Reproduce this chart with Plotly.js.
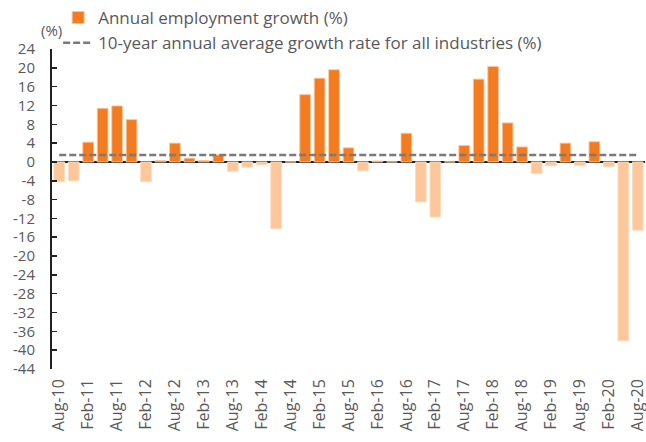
<!DOCTYPE html>
<html>
<head>
<meta charset="utf-8">
<script src="https://cdn.plot.ly/plotly-3.0.1.min.js"></script>
<style>html,body{margin:0;padding:0;background:#fff;}#chart{width:646px;height:442px;}</style>
</head>
<body>
<div id="chart"></div>
<script>
const quarters = ["Aug-10","Nov-10","Feb-11","May-11","Aug-11","Nov-11","Feb-12","May-12","Aug-12","Nov-12",
  "Feb-13","May-13","Aug-13","Nov-13","Feb-14","May-14","Aug-14","Nov-14","Feb-15","May-15",
  "Aug-15","Nov-15","Feb-16","May-16","Aug-16","Nov-16","Feb-17","May-17","Aug-17","Nov-17",
  "Feb-18","May-18","Aug-18","Nov-18","Feb-19","May-19","Aug-19","Nov-19","Feb-20","May-20","Aug-20"];
const growth = [-4.2,-4.0,4.2,11.4,11.9,9.0,-4.2,0.3,4.0,0.8,
  0.3,1.5,-2.0,-1.1,-0.6,-14.2,0,14.3,17.8,19.6,
  3.0,-1.9,0.2,0,6.1,-8.5,-11.7,0,3.5,17.6,
  20.3,8.3,3.2,-2.5,-0.8,4.0,-0.8,4.3,-1.0,-38.0,-14.5];
const tickLabels = ["Aug-10","Feb-11","Aug-11","Feb-12","Aug-12","Feb-13","Aug-13","Feb-14","Aug-14","Feb-15",
  "Aug-15","Feb-16","Aug-16","Feb-17","Aug-17","Feb-18","Aug-18","Feb-19","Aug-19","Feb-20","Aug-20"];
const avgGrowth = 1.5;
const yTicks = [24,20,16,12,8,4,0,-4,-8,-12,-16,-20,-24,-28,-32,-36,-40,-44];

const dark = "#F47B20", light = "#FCC89B";
const FONT = "Open Sans, sans-serif";
const posVals = growth.map(v => v >= 0 ? v : null);
const negVals = growth.map(v => v < 0 ? v : null);

const traces = [
  {type:"bar", x:quarters, y:posVals, name:"Annual employment growth (%)",
   marker:{color:dark, line:{color:"rgba(252,200,155,0.9)", width:1}}},
  {type:"bar", x:quarters, y:negVals, showlegend:false,
   marker:{color:light, line:{color:"rgba(253,220,190,0.9)", width:1}}},
  {type:"scatter", mode:"lines", x:[quarters[0], quarters[quarters.length-1]], y:[avgGrowth, avgGrowth],
   name:"10-year annual average growth rate for all industries (%)",
   line:{color:"#7a7a7a", width:2.5, dash:"7px,3px"}}
];

const layout = {
  width:646, height:442,
  margin:{l:52, r:1, t:49, b:73, autoexpand:false},
  paper_bgcolor:"#fff", plot_bgcolor:"#fff",
  barmode:"overlay", bargap:0.26,
  font:{family:FONT, color:"#595959", size:14},
  showlegend:true,
  legend:{xref:"container", yref:"container", x:0.09, y:1.0, xanchor:"left", yanchor:"top",
    font:{family:FONT, size:17, color:"#595959"}, itemwidth:30, bgcolor:"rgba(0,0,0,0)",
    tracegroupgap:0, traceorder:"normal"},
  xaxis:{type:"category", tickmode:"array", tickvals:tickLabels, ticktext:tickLabels,
    tickangle:-90, showgrid:false, showline:false, ticks:"", zeroline:false, ticklabelstandoff:6,
    tickfont:{family:FONT, size:16, color:"#595959"}},
  yaxis:{range:[-44,24], tickmode:"array", tickvals:yTicks, ticktext:yTicks.map(String),
    showgrid:false, showline:true, linecolor:"#222", linewidth:2, ticks:"inside", ticklen:5,
    tickcolor:"#222", tickwidth:1.5, zeroline:true, zerolinecolor:"#222", zerolinewidth:2.5,
    ticklabelstandoff:12,
    tickfont:{family:FONT, size:15, color:"#595959"}},
  annotations:[{text:"(%)", xref:"paper", yref:"paper", x:-0.022, y:1.06, xanchor:"left", yanchor:"middle",
    showarrow:false, font:{family:FONT, size:15, color:"#595959"}}]
};
Plotly.newPlot("chart", traces, layout, {displayModeBar:false, staticPlot:true});
</script>
</body>
</html>
